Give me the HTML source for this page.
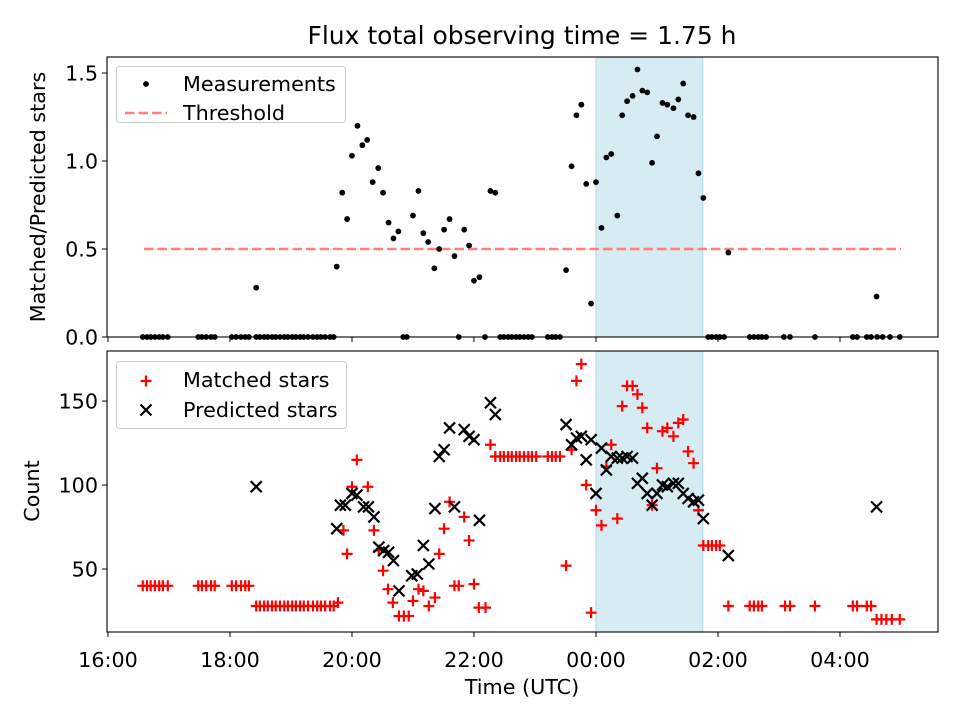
<!DOCTYPE html>
<html><head><meta charset="utf-8"><style>
html,body{margin:0;padding:0;background:#fff;}
svg{display:block;font-family:"DejaVu Sans","Liberation Sans",sans-serif;}
</style></head><body>
<svg id="chart" width="960" height="720" viewBox="0 0 960 720">
<text x="522" y="44" font-size="25" text-anchor="middle">Flux total observing time = 1.75 h</text>
<g id="topPanel"></g>
<g id="botPanel"></g>
<text transform="translate(45,197) rotate(-90)" font-size="20.7" text-anchor="middle">Matched/Predicted stars</text>
<text transform="translate(39,491) rotate(-90)" font-size="20.7" text-anchor="middle">Count</text>
<text x="522" y="694" font-size="20.7" text-anchor="middle">Time (UTC)</text>
</svg>
<script>
const ratioTimes=[16.57,16.64,16.70,16.77,16.84,16.90,16.98,17.48,17.54,17.61,17.69,17.75,18.03,18.10,18.18,18.25,18.31,18.43,18.49,18.56,18.62,18.69,18.75,18.82,18.89,18.95,19.02,19.08,19.15,19.21,19.28,19.36,19.43,19.49,19.56,19.64,19.70,20.84,20.90,21.75,22.18,22.43,22.49,22.56,22.62,22.69,22.75,22.82,22.89,22.95,23.21,23.28,23.34,23.41,25.84,25.90,25.97,26.03,26.10,26.52,26.59,26.66,26.72,26.79,27.08,27.18,27.59,28.21,28.28,28.44,28.51,28.61,28.70,28.82,28.98,
18.43,19.75,19.84,19.92,20.00,20.09,20.17,20.25,20.34,20.43,20.51,20.60,20.68,20.76,21.00,21.09,21.17,21.25,21.35,21.43,21.51,21.60,21.68,21.84,21.92,22.00,22.09,22.27,22.35,
23.51,23.60,23.68,23.76,23.84,23.92,24.00,24.09,24.17,24.25,24.35,24.43,24.51,24.60,24.68,24.76,24.84,24.92,25.00,25.09,25.17,25.27,25.35,25.43,25.51,25.60,25.68,25.76,26.17,28.60];
const ratioValues=[0,0,0,0,0,0,0,0,0,0,0,0,0,0,0,0,0,0,0,0,0,0,0,0,0,0,0,0,0,0,0,0,0,0,0,0,0,0,0,0,0,0,0,0,0,0,0,0,0,0,0,0,0,0,0,0,0,0,0,0,0,0,0,0,0,0,0,0,0,0,0,0,0,0,0,
0.28,0.40,0.82,0.67,1.03,1.20,1.09,1.12,0.88,0.96,0.82,0.65,0.56,0.60,0.69,0.83,0.59,0.54,0.39,0.50,0.61,0.67,0.46,0.61,0.52,0.32,0.34,0.83,0.82,
0.38,0.97,1.26,1.32,0.87,0.19,0.88,0.62,1.02,1.04,0.69,1.26,1.34,1.37,1.52,1.40,1.39,0.99,1.14,1.33,1.32,1.30,1.35,1.44,1.26,1.25,0.93,0.79,0.48,0.23];
const thresholdValue=0.5;
const thresholdRange=[16.59,29.0];
const observeSpan=[24.0,25.75];
const matchedTimes=[16.57,16.64,16.70,16.77,16.84,16.90,16.98,17.48,17.54,17.61,17.69,17.75,18.03,18.10,18.18,18.25,18.31,
18.43,18.49,18.56,18.62,18.69,18.75,18.82,18.89,18.95,19.02,19.08,19.15,19.21,19.28,19.36,19.43,19.49,19.56,19.64,19.70,19.77,
20.08,20.00,20.26,19.86,19.92,20.36,20.44,20.51,20.59,20.67,20.77,20.85,20.93,21.00,21.09,21.17,21.26,21.36,21.43,21.51,21.60,21.68,21.75,21.84,21.92,22.00,22.08,22.19,22.27,
22.35,22.43,22.49,22.56,22.62,22.69,22.75,22.82,22.89,22.95,23.02,23.21,23.28,23.34,23.41,
23.51,23.60,23.68,23.76,23.84,23.92,24.00,24.09,24.17,24.25,24.35,24.43,24.51,24.60,24.68,24.76,24.84,24.92,25.00,25.09,25.17,25.27,25.35,25.43,25.51,25.60,25.68,
25.76,25.84,25.90,25.97,26.03,26.17,26.52,26.59,26.66,26.72,27.10,27.18,27.59,28.21,28.28,28.44,28.51,28.60,28.68,28.76,28.85,28.98];
const matchedValues=[40,40,40,40,40,40,40,40,40,40,40,40,40,40,40,40,40,
28,28,28,28,28,28,28,28,28,28,28,28,28,28,28,28,28,28,28,28,30,
115,99,99,73,59,73,61,49,38,30,22,22,22,31,38,37,28,33,59,74,90,40,40,81,67,41,27,27,124,
117,117,117,117,117,117,117,117,117,117,117,117,117,117,117,
52,121,162,172,100,24,85,76,111,124,80,147,159,159,154,146,134,88,110,132,134,129,137,139,120,113,85,
64,64,64,64,64,28,28,28,28,28,28,28,28,28,28,28,28,20,20,20,20,20];
const predictedTimes=[18.43,19.75,19.81,19.89,20.00,20.08,20.19,20.27,20.36,20.44,20.52,20.60,20.68,20.77,20.98,21.07,21.17,21.26,21.36,21.43,21.51,21.60,21.68,21.84,21.92,22.00,22.09,22.27,22.35,
23.51,23.60,23.68,23.76,23.84,23.92,24.00,24.09,24.17,24.25,24.35,24.43,24.51,24.60,24.68,24.76,24.84,24.92,25.00,25.09,25.17,25.27,25.35,25.43,25.51,25.60,25.68,25.76,26.17,28.60];
const predictedValues=[99,74,88,88,95,94,87,87,81,63,61,60,55,37,46,47,64,53,86,117,121,134,87,133,129,127,79,149,142,
136,124,128,129,115,127,95,122,109,117,116,116,117,116,101,104,95,88,95,100,99,101,101,95,92,90,91,80,58,87];
const xTicks=[16,18,20,22,24,26,28];
const topYTicks=[0,0.5,1.0,1.5];
const botYTicks=[50,100,150];

const NS='http://www.w3.org/2000/svg';
const L=107,R=938;
const TT=57,TB=337,BT=351,BB=632;
const xMin=15.984,xMax=29.607;
const xs=t=>L+(t-xMin)/(xMax-xMin)*(R-L);
const yTop=v=>TB-(v-0)/(1.591-0)*(TB-TT);
const yBot=v=>BB-(v-12.5)/(179.8-12.5)*(BB-BT);
function mk(tag,attrs,parent){const e=document.createElementNS(NS,tag);for(const k in attrs)e.setAttribute(k,attrs[k]);parent.appendChild(e);return e;}
const topG=document.getElementById('topPanel'),botG=document.getElementById('botPanel');
function fmt(t){const h=t%24;return String(h).padStart(2,'0')+':00';}
const FS=20.7;

function panel(g,T,B,yf,yt,yfmt,name){
  const sp=mk('rect',{x:xs(observeSpan[0]),y:T,width:xs(observeSpan[1])-xs(observeSpan[0]),height:B-T,fill:'#add8e6','fill-opacity':0.5,stroke:'#add8e6','stroke-width':1},g);
  
  
  for(const t of xTicks){
    const tk=mk('line',{x1:xs(t),x2:xs(t),y1:B,y2:B+5,stroke:'#000','stroke-width':1},g);
    
    
  }
  for(const v of yt){
    const tk=mk('line',{x1:L-5,x2:L,y1:yf(v),y2:yf(v),stroke:'#000','stroke-width':1},g);
    
    
    const lb=mk('text',{x:L-9,y:yf(v)+7.5,'font-size':FS,'text-anchor':'end'},g);
    lb.textContent=yfmt(v);
    
    
  }
}
panel(topG,TT,TB,yTop,topYTicks,v=>v.toFixed(1),'top');
panel(botG,BT,BB,yBot,botYTicks,v=>String(v),'bottom');
for(const t of xTicks){
  const lb=mk('text',{x:xs(t),y:667,'font-size':FS,'text-anchor':'middle'},botG);
  lb.textContent=fmt(t);
  
  
}
const th=mk('line',{x1:xs(thresholdRange[0]),x2:xs(thresholdRange[1]),y1:yTop(thresholdValue),y2:yTop(thresholdValue),stroke:'#ff7f7f','stroke-width':2.6,'stroke-dasharray':'9.5,4'},topG);


ratioTimes.forEach((t,i)=>{
  const c=mk('circle',{cx:xs(t),cy:yTop(ratioValues[i]),r:2.9,fill:'#000'},topG);
  
  
});
function plus(cx,cy,g){return mk('path',{d:`M${cx-5.5},${cy}H${cx+5.5}M${cx},${cy-5.5}V${cy+5.5}`,stroke:'#ff0000','stroke-width':2.2,fill:'none'},g);}
function cross(cx,cy,g){return mk('path',{d:`M${cx-5.5},${cy-5.5}L${cx+5.5},${cy+5.5}M${cx-5.5},${cy+5.5}L${cx+5.5},${cy-5.5}`,stroke:'#000','stroke-width':2.2,fill:'none'},g);}
matchedTimes.forEach((t,i)=>{
  const p=plus(xs(t),yBot(matchedValues[i]),botG);
  
  
});
predictedTimes.forEach((t,i)=>{
  const p=cross(xs(t),yBot(predictedValues[i]),botG);
  
  
});
[[TT,TB,topG,'top-frame'],[BT,BB,botG,'bottom-frame']].forEach(([T,B,g,n])=>{
  const f=mk('rect',{x:L,y:T,width:R-L,height:B-T,fill:'none',stroke:'#000','stroke-width':1.1},g);
  
  
});
const lg1=mk('g',{},topG);


mk('rect',{x:116.5,y:66.5,width:229,height:56,rx:3,fill:'#fff','fill-opacity':0.8,stroke:'#ccc','stroke-width':1},lg1);
mk('circle',{cx:146,cy:84,r:2.9,fill:'#000'},lg1);
mk('line',{x1:125,x2:167,y1:113,y2:113,stroke:'#ff7f7f','stroke-width':2.6,'stroke-dasharray':'9.5,4'},lg1);
const a1=mk('text',{x:183,y:91,'font-size':FS},lg1);a1.textContent='Measurements';


const a2=mk('text',{x:183,y:120,'font-size':FS},lg1);a2.textContent='Threshold';


const lg2=mk('g',{},botG);


mk('rect',{x:116.5,y:361.5,width:230,height:67,rx:3,fill:'#fff','fill-opacity':0.8,stroke:'#ccc','stroke-width':1},lg2);
plus(146,381,lg2);cross(146,410,lg2);
const b1=mk('text',{x:183,y:387,'font-size':FS},lg2);b1.textContent='Matched stars';


const b2=mk('text',{x:183,y:417,'font-size':FS},lg2);b2.textContent='Predicted stars';


</script>
</body></html>
